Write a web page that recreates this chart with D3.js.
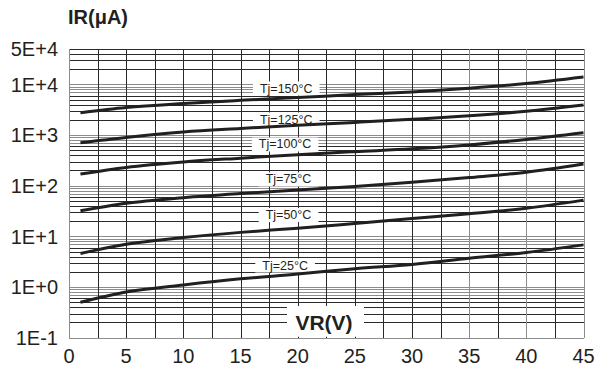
<!DOCTYPE html>
<html>
<head>
<meta charset="utf-8">
<script src="https://cdn.jsdelivr.net/npm/d3@7"></script>
<style>
  body { margin: 0; background: #fff; }
  svg { display: block; font-family: "Liberation Sans", Arial, sans-serif; }
</style>
</head>
<body>
<div id="chart"></div>
<script>
// reverse voltage (V) sample points
const vr = [1, 5, 10, 15, 20, 25, 30, 35, 40, 45];

// reverse current IR (uA) per junction temperature
const tj150 = [2760, 3500, 4200, 4850, 5500, 6300, 7100, 8400, 10400, 14000];
const tj125 = [707, 900, 1150, 1350, 1560, 1780, 2050, 2400, 2950, 3920];
const tj100 = [170, 230, 295, 350, 410, 470, 535, 640, 820, 1110];
const tj75 = [32, 45, 58, 70, 82, 97, 117, 145, 185, 268];
const tj50 = [4.6, 7, 9.5, 12, 14.5, 18, 22.5, 28, 36, 52];
const tj25 = [0.5, 0.8, 1.1, 1.45, 1.8, 2.3, 2.8, 3.7, 4.8, 6.8];

const seriesNames = ['Tj=150°C', 'Tj=125°C', 'Tj=100°C', 'Tj=75°C', 'Tj=50°C', 'Tj=25°C'];
const seriesValues = [tj150, tj125, tj100, tj75, tj50, tj25];

// where each curve label sits (VR, IR)
const labelVr = [19, 19, 18.9, 19.2, 19.2, 18.9];
const labelIr = [8490, 2075, 667, 136, 27, 2.72];

const xTicks = [0, 5, 10, 15, 20, 25, 30, 35, 40, 45];
const yTicks = [0.1, 1, 10, 100, 1000, 10000, 50000];
const yTickLabels = ['1E-1', '1E+0', '1E+1', '1E+2', '1E+3', '1E+4', '5E+4'];

const width = 597;
const height = 372;
const margin = { left: 69, top: 49, right: 13.5, bottom: 34.3 };

const svg = d3.select('#chart')
  .append('svg')
  .attr('width', width)
  .attr('height', height);

const x = d3.scaleLinear()
  .domain([0, 45])
  .range([margin.left, width - margin.right]);

const y = d3.scaleLog()
  .domain([0.1, 50000])
  .range([height - margin.bottom, margin.top]);

// grid: horizontal log lines
const hLines = [];
for (let e = -1; e <= 4; e++) {
  for (let m = 1; m <= 9; m++) {
    const v = m * Math.pow(10, e);
    if (v > 50000) break;
    hLines.push({ v, m });
  }
}
hLines.push({ v: 50000, m: 0 });

const grid = svg.append('g').attr('shape-rendering', 'crispEdges');

grid.selectAll('line.h')
  .data(hLines)
  .enter().append('line')
    .attr('class', 'h')
    .attr('x1', x(0))
    .attr('x2', x(45))
    .attr('y1', d => Math.round(y(d.v)) + 0.5)
    .attr('y2', d => Math.round(y(d.v)) + 0.5)
    .attr('stroke', d => (d.m === 1 || d.m >= 7) ? '#8c8c8c' : '#2a2a2a')
    .attr('stroke-width', 1);

// vertical lines every 2.5 V
const vLines = d3.range(0, 45.01, 2.5);
grid.selectAll('line.v')
  .data(vLines)
  .enter().append('line')
    .attr('class', 'v')
    .attr('x1', d => Math.round(x(d)) + 0.5)
    .attr('x2', d => Math.round(x(d)) + 0.5)
    .attr('y1', y(50000))
    .attr('y2', y(0.1))
    .attr('stroke', d => (d === 0 || d === 35 || d === 40 || d === 45) ? '#8c8c8c' : '#2a2a2a')
    .attr('stroke-width', d => (d === 0 || d === 45) ? 1.5 : 1);

// curve labels with white boxes
const labels = svg.append('g');
seriesNames.forEach((name, i) => {
  const g = labels.append('g')
    .attr('transform', `translate(${x(labelVr[i])},${y(labelIr[i])})`);
  const t = g.append('text')
    .attr('text-anchor', 'middle')
    .attr('dy', '0.36em')
    .attr('font-size', 12.5)
    .attr('fill', '#231f20')
    .text(name);
  const bb = t.node().getBBox();
  g.insert('rect', 'text')
    .attr('x', bb.x - 7)
    .attr('y', bb.y)
    .attr('width', bb.width + 14)
    .attr('height', bb.height)
    .attr('fill', '#fff');
});

// curves
const line = d3.line()
  .x((d, i) => x(vr[i]))
  .y(d => y(d))
  .curve(d3.curveMonotoneX);

svg.append('g')
  .selectAll('path')
  .data(seriesValues)
  .enter().append('path')
    .attr('d', line)
    .attr('fill', 'none')
    .attr('stroke', '#231f20')
    .attr('stroke-width', 3);

// y tick labels
svg.append('g')
  .selectAll('text')
  .data(yTicks)
  .enter().append('text')
    .attr('x', margin.left - 11)
    .attr('y', d => y(d))
    .attr('dy', '0.36em')
    .attr('text-anchor', 'end')
    .attr('font-size', 20)
    .attr('fill', '#231f20')
    .text((d, i) => yTickLabels[i]);

// x tick labels
svg.append('g')
  .selectAll('text')
  .data(xTicks)
  .enter().append('text')
    .attr('x', d => x(d))
    .attr('y', height - 9)
    .attr('text-anchor', 'middle')
    .attr('font-size', 20)
    .attr('fill', '#231f20')
    .text(d => d);

// axis titles
svg.append('text')
  .attr('x', margin.left - 1)
  .attr('y', 24)
  .attr('font-size', 20)
  .attr('font-weight', 'bold')
  .attr('fill', '#231f20')
  .text('IR(μA)');

const vrBox = svg.append('g');
vrBox.append('rect')
  .attr('x', 287)
  .attr('y', 306)
  .attr('width', 77)
  .attr('height', y(0.1) - 306 - 1)
  .attr('fill', '#fff');
vrBox.append('text')
  .attr('x', 324)
  .attr('y', 330)
  .attr('text-anchor', 'middle')
  .attr('font-size', 21)
  .attr('font-weight', 'bold')
  .attr('fill', '#231f20')
  .text('VR(V)');
</script>
</body>
</html>
